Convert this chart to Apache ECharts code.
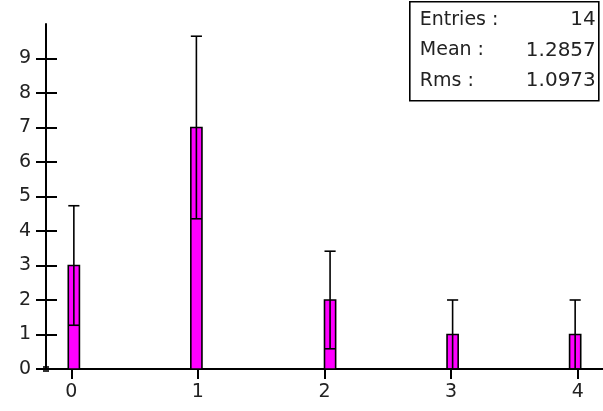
<!DOCTYPE html>
<html>
<head>
<meta charset="utf-8">
<script src="https://cdn.jsdelivr.net/npm/echarts@6/dist/echarts.min.js"></script>
<style>
html,body{margin:0;padding:0;background:#fff;}
#chart{width:603px;height:411px;}
</style>
</head>
<body>
<div id="chart"></div>
<script>
// ---- data ----
var histMin = -0.2;
var histMax = 4.2;
var histBins = 50;
var filledBins = [2, 13, 25, 36, 47];
var binCounts = [3, 7, 2, 1, 1];
var xTickValues = [0, 1, 2, 3, 4];
var yTickValues = [0, 1, 2, 3, 4, 5, 6, 7, 8, 9];
var yMax = 10;
var statsNames = ['Entries :', 'Mean :', 'Rms :'];
var statsValues = ['14', '1.2857', '1.0973'];

// ---- derived ----
var binW = (histMax - histMin) / histBins;
var barData = filledBins.map(function (b, i) {
  var lo = histMin + b * binW;
  return [lo, lo + binW, binCounts[i], Math.sqrt(binCounts[i])];
});

var FONT = 'DejaVu Sans';
var TXT = '#222';

var chart = echarts.init(document.getElementById('chart'), null, {renderer: 'canvas'});

function barItem(params, api) {
  var p0 = api.coord([api.value(0), 0]);
  var p1 = api.coord([api.value(1), api.value(2)]);
  return {
    type: 'rect',
    shape: {x: p0[0], y: p1[1], width: p1[0] - p0[0], height: p0[1] - p1[1]},
    style: {fill: '#ff00ff', stroke: '#000', lineWidth: 1.6}
  };
}
function errItem(params, api) {
  var lo = api.value(0), hi = api.value(1), v = api.value(2), e = api.value(3);
  var c = (lo + hi) / 2;
  var top = api.coord([c, v + e]);
  var bot = api.coord([c, Math.max(0, v - e)]);
  var l = api.coord([lo, 0])[0], r = api.coord([hi, 0])[0];
  var st = {stroke: '#000', lineWidth: 1.6};
  return {
    type: 'group',
    children: [
      {type: 'line', shape: {x1: top[0], y1: top[1], x2: bot[0], y2: bot[1]}, style: st},
      {type: 'line', shape: {x1: l, y1: top[1], x2: r, y2: top[1]}, style: st},
      {type: 'line', shape: {x1: l, y1: bot[1], x2: r, y2: bot[1]}, style: st}
    ]
  };
}

var statsChildren = [{
  type: 'rect', shape: {x: 0, y: 0, width: 189, height: 99},
  style: {fill: '#fff', stroke: '#000', lineWidth: 1.6}
}];
statsNames.forEach(function (n, i) {
  statsChildren.push({type: 'text', x: 10, y: 18 + i * 30.5,
    style: {text: n, font: '19px "' + FONT + '"', fill: TXT, verticalAlign: 'middle', align: 'left'}});
  statsChildren.push({type: 'text', x: 186, y: 18 + i * 30.5,
    style: {text: statsValues[i], font: '20px "' + FONT + '"', fill: TXT, verticalAlign: 'middle', align: 'right'}});
});

var option = {
  animation: false,
  backgroundColor: '#fff',
  grid: {left: 46, top: 24, width: (histMax - histMin) * 128, height: 345, containLabel: false},
  xAxis: {
    type: 'value', min: histMin, max: histMax,
    axisLine: {show: true, onZero: false, lineStyle: {color: '#000', width: 2}},
    axisTick: {show: true, customValues: xTickValues, length: 10, inside: false, lineStyle: {color: '#000', width: 2}},
    axisLabel: {show: true, customValues: xTickValues, margin: 14, color: TXT, fontFamily: FONT, fontSize: 19},
    splitLine: {show: false}
  },
  yAxis: [{
    type: 'value', min: 0, max: yMax, position: 'left',
    axisLine: {show: true, onZero: false, lineStyle: {color: '#000', width: 2}},
    axisTick: {show: true, customValues: yTickValues, length: 10, inside: false, lineStyle: {color: '#000', width: 2}},
    axisLabel: {show: true, customValues: yTickValues, margin: 15, color: TXT, fontFamily: FONT, fontSize: 19},
    splitLine: {show: false}
  }, {
    type: 'value', min: 0, max: yMax, position: 'left',
    axisLine: {show: false, onZero: false},
    axisTick: {show: true, customValues: yTickValues.slice(1), length: 11, inside: true, lineStyle: {color: '#000', width: 2}},
    axisLabel: {show: false},
    splitLine: {show: false}
  }],
  series: [{
    type: 'custom', renderItem: barItem, data: barData, clip: false, z: 2
  }, {
    type: 'custom', renderItem: errItem, data: barData, clip: false, z: 3
  }, {
    type: 'scatter', data: [[histMin, 0]], symbol: 'rect', symbolSize: 6, clip: false,
    itemStyle: {color: '#000'}, z: 4, silent: true
  }],
  graphic: [{type: 'group', left: 409, top: 1, children: statsChildren}]
};
chart.setOption(option);
</script>
</body>
</html>
